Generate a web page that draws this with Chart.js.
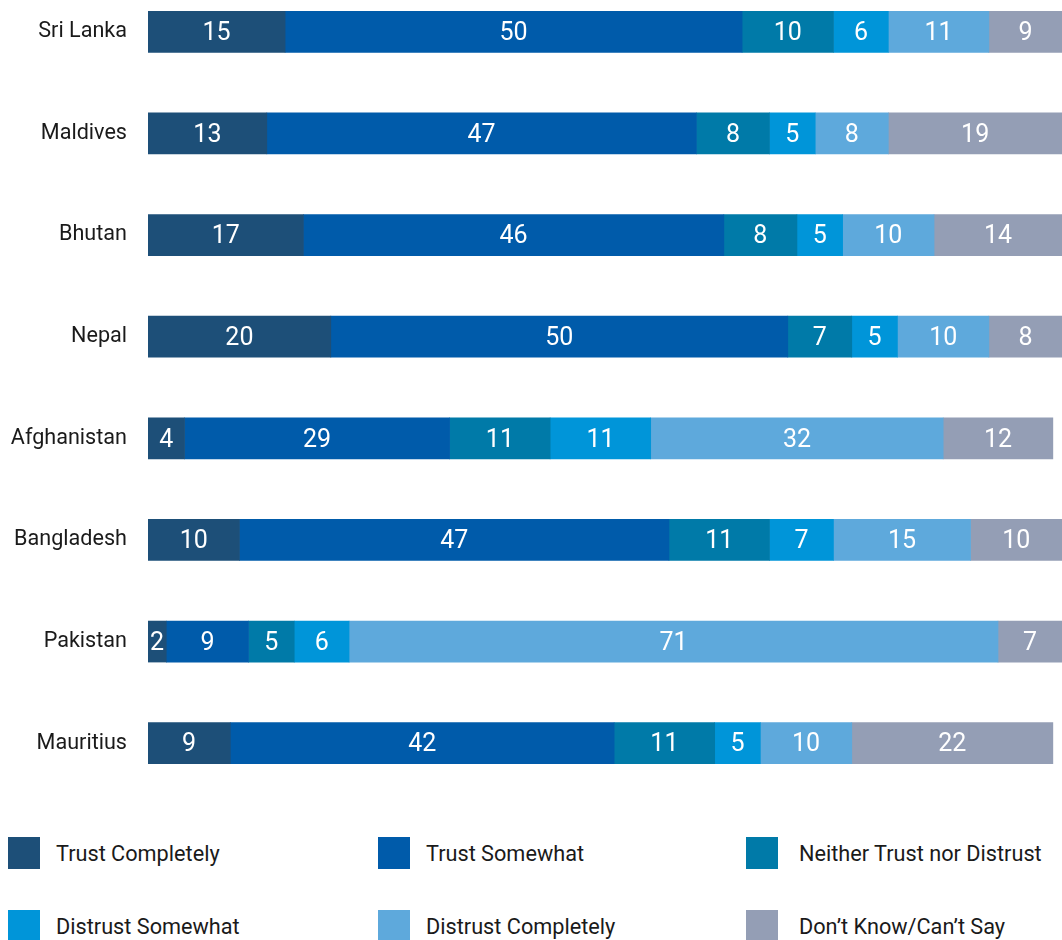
<!DOCTYPE html>
<html>
<head>
<meta charset="utf-8">
<script src="https://cdn.jsdelivr.net/npm/chart.js@4/dist/chart.umd.min.js"></script>
<style>
  html, body { margin: 0; padding: 0; background: #fff; overflow: hidden; }
  body { width: 1062px; height: 940px; position: relative; font-family: Roboto, sans-serif; }
  #wrap { position: absolute; left: 0; top: -19px; width: 1062px; height: 813px; }
  .swatch { position: absolute; width: 32px; height: 32px; }
  .key { position: absolute; font-size: 21.7px; line-height: 32px; color: #1a1a1a; white-space: nowrap; }
</style>
</head>
<body>
<div id="wrap"><canvas id="chart"></canvas></div>
<div id="legend"></div>
<script>
const countries = ['Sri Lanka', 'Maldives', 'Bhutan', 'Nepal', 'Afghanistan', 'Bangladesh', 'Pakistan', 'Mauritius'];

const trustCompletely   = [15, 13, 17, 20, 4, 10, 2, 9];
const trustSomewhat     = [50, 47, 46, 50, 29, 47, 9, 42];
const neither           = [10, 8, 8, 7, 11, 11, 5, 11];
const distrustSomewhat  = [6, 5, 5, 5, 11, 7, 6, 5];
const distrustCompletely = [11, 8, 10, 10, 32, 15, 71, 10];
const dontKnow          = [9, 19, 14, 8, 12, 10, 7, 22];

const seriesNames = ['Trust Completely', 'Trust Somewhat', 'Neither Trust nor Distrust',
  'Distrust Somewhat', 'Distrust Completely', 'Don\u2019t Know/Can\u2019t Say'];
const seriesColors = ['#1d4f78', '#005baa', '#007aa8', '#0095d9', '#5ea9dc', '#949eb5'];
const seriesData = [trustCompletely, trustSomewhat, neither, distrustSomewhat, distrustCompletely, dontKnow];

// white value text centred on each visible segment
const segmentLabels = {
  id: 'segmentLabels',
  afterDatasetsDraw(chart) {
    const { ctx, chartArea } = chart;
    ctx.save();
    ctx.fillStyle = '#ffffff';
    ctx.font = '25px Roboto';
    ctx.textAlign = 'center';
    ctx.textBaseline = 'middle';
    chart.data.datasets.forEach((ds, i) => {
      chart.getDatasetMeta(i).data.forEach((bar, j) => {
        const left = Math.max(bar.base, chartArea.left);
        const right = Math.min(bar.x, chartArea.right);
        ctx.fillText(String(ds.data[j]), (left + right) / 2, bar.y + 2);
      });
    });
    ctx.restore();
  }
};

new Chart(document.getElementById('chart'), {
  type: 'bar',
  data: {
    labels: countries,
    datasets: seriesData.map((d, i) => ({
      label: seriesNames[i],
      data: d,
      backgroundColor: seriesColors[i],
      borderWidth: 0,
      barThickness: 41
    }))
  },
  options: {
    indexAxis: 'y',
    responsive: true,
    maintainAspectRatio: false,
    animation: false,
    layout: { padding: 0 },
    plugins: { legend: { display: false }, tooltip: { enabled: false } },
    scales: {
      x: { stacked: true, min: 0, max: 100, display: false },
      y: {
        stacked: true,
        grid: { display: false, drawTicks: false },
        border: { display: false },
        ticks: { color: '#1a1a1a', font: { family: 'Roboto', size: 21.6 }, padding: 21 },
        afterFit(scale) {
          scale.width = 148;
          scale.paddingTop = 0;
          scale.paddingBottom = 0;
        }
      }
    }
  },
  plugins: [segmentLabels]
});

// legend: three columns, two rows
const swatchX = [8, 378, 746];
const textX = [56, 426, 799];
const rowY = [837, 910];
document.getElementById('legend').innerHTML = seriesNames.map((name, i) => {
  const c = i % 3, y = rowY[Math.floor(i / 3)];
  return `<div class="swatch" style="left:${swatchX[c]}px;top:${y}px;background:${seriesColors[i]}"></div>` +
    `<div class="key" style="left:${textX[c]}px;top:${y + 1}px">${name}</div>`;
}).join('');
</script>
</body>
</html>
